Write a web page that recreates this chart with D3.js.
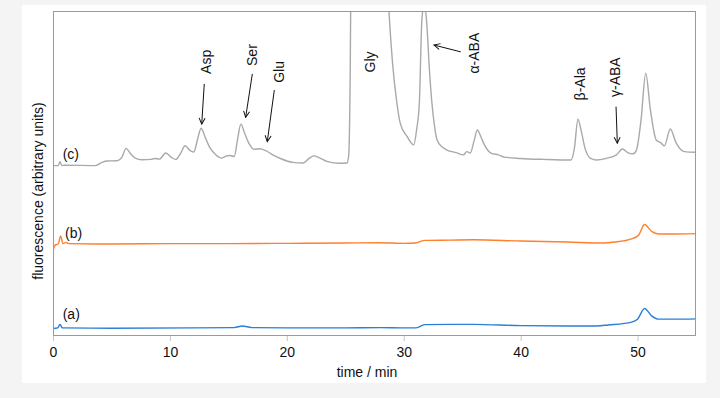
<!DOCTYPE html>
<html>
<head>
<meta charset="utf-8">
<script src="https://cdn.jsdelivr.net/npm/d3@7"></script>
<style>
    body { margin: 0; background: #f4f4f4; }
    svg { display: block; }
    text { font-family: "Liberation Sans", Arial, Helvetica, sans-serif; fill: #111; }
</style>
</head>
<body>
<div id="chart"></div>
<script>
// retention time (min) and signal (arbitrary units)
let trace_a = [
    [0, 2.3], [0.4, 2.5], [0.6, 3.6], [0.8, 2.5], [5, 2.4], [12, 2.5], [15.5, 2.6],
    [16.2, 3.1], [17, 2.6], [20, 2.5], [25, 2.5], [28, 2.6], [30, 2.5], [31, 2.5],
    [31.8, 3.5], [34, 3.6], [36, 3.6], [40, 3.2], [44, 3.1], [46.5, 3.1], [47.5, 3.4],
    [49.5, 4.3], [50, 5.2], [50.6, 8.5], [51.2, 6.2], [51.8, 5.2], [53, 5.2], [55, 5.3]
];

let trace_b = [
    [0, 26.4], [0.2, 28.1], [0.45, 28.4], [0.65, 30.9], [0.85, 28.5], [1.1, 28.9],
    [1.4, 28.5], [5, 28.4], [10, 28.5], [15, 28.5], [20, 28.6], [25, 28.7], [28, 28.8],
    [30, 28.6], [31, 28.7], [31.8, 29.5], [34, 29.6], [36, 29.7], [40, 29.3], [44, 29.0],
    [47, 28.7], [48, 29.0], [49.5, 30.0], [50.1, 31.2], [50.6, 34.4], [51.2, 32.3],
    [51.8, 31.5], [53, 31.5], [55, 31.6]
];

let trace_c = [
    [0, 52.6], [0.45, 52.6], [0.6, 53.8], [0.75, 52.6], [1.0, 52.7], [3.6, 52.6],
    [4.2, 53.6], [4.6, 54.0], [5.5, 54.1], [5.9, 55.2], [6.25, 57.9], [6.6, 56.4],
    [7.0, 55.0], [7.6, 54.4], [8.4, 54.5], [8.7, 54.8], [9.1, 54.6], [9.65, 56.5],
    [10.1, 55.2], [10.5, 54.5], [10.9, 56.3], [11.3, 58.7], [11.7, 57.3], [12.05, 56.8],
    [12.35, 60.5], [12.67, 64.1], [13.0, 61.5], [13.4, 58.2], [13.9, 56.0], [14.4, 54.9],
    [14.8, 55.5], [15.1, 55.7], [15.5, 55.4], [15.8, 61.0], [16.07, 65.4], [16.4, 62.5],
    [16.8, 59.2], [17.2, 57.6], [17.7, 57.8], [18.2, 57.2], [18.8, 55.9], [19.5, 54.7],
    [20.5, 53.6], [21.4, 53.4], [21.9, 54.8], [22.3, 55.6], [22.8, 55.0], [23.5, 53.8],
    [24.5, 53.3], [25.15, 53.4], [25.3, 56], [25.42, 80], [25.55, 140], [26.5, 200],
    [27.8, 200], [28.45, 120], [28.74, 100], [29.05, 84], [29.4, 72.3], [29.7, 65.7],
    [30.3, 61.5], [30.85, 59.0], [31.1, 63.6], [31.34, 72.3], [31.55, 97.5], [31.74, 102.2],
    [31.95, 97.5], [32.2, 82], [32.4, 72.3], [32.6, 65.7], [32.85, 60.5], [33.3, 58.3],
    [33.7, 57.4], [34.5, 56.6], [35.1, 55.9], [35.4, 56.9], [35.7, 56.5], [36.0, 60],
    [36.3, 63.6], [36.6, 61.5], [36.9, 59.0], [37.5, 56.4], [38.1, 55.9], [38.6, 55.2],
    [40, 54.8], [42, 54.5], [44.3, 54.3], [44.6, 58], [44.9, 66.9], [45.2, 63],
    [45.5, 58.0], [46.0, 54.8], [46.5, 54.3], [47.3, 54.8], [48.2, 55.9], [48.7, 57.7],
    [49.2, 56.5], [49.6, 56.2], [49.9, 57.3], [50.3, 66.7], [50.7, 81.1], [51.1, 69.8],
    [51.6, 60.5], [52.0, 59.6], [52.3, 58.7], [52.8, 63.9], [53.3, 59.6], [54.0, 56.9],
    [55, 56.7]
];

let series_names = ['(a)', '(b)', '(c)'];
let series_colors = ['#2a7fd6', '#ff7f2a', '#a9a9a9'];
let series_label_pos = [[0.83, 6.7], [1.03, 31.9], [0.83, 56.2]];

let x_ticks = [0, 10, 20, 30, 40, 50];

// peak labels: name, label centre (t, v), arrow from, arrow to
let peak_names = ['Asp', 'Ser', 'Glu', 'Gly', '\u03b1-ABA', '\u03b2-Ala', '\u03b3-ABA'];
let peak_label_pos = [[13.06, 84.6], [17.0, 86.7], [19.36, 81.5], [27.12, 84.6], [36.01, 87.3], [45.08, 77.8], [48.08, 79.9]];
let peak_arrows = [
    [[12.94, 77.8], [12.72, 65.4]],
    [[17.05, 80.9], [16.48, 67.5]],
    [[18.93, 75.9], [18.33, 60.0]],
    null,
    [[34.88, 87.7], [32.59, 89.8]],
    null,
    [[48.16, 70.8], [48.27, 59.5]]
];

let W = 720, H = 398;
let margin = {top: 12, right: 24, bottom: 62, left: 53};
let width = W - margin.left - margin.right;
let height = H - margin.top - margin.bottom;

let svg = d3.select('#chart').append('svg')
    .attr('width', W)
    .attr('height', H);

// white panel
svg.append('rect')
    .attr('x', 22).attr('y', 5)
    .attr('width', 684).attr('height', 378)
    .attr('fill', '#fff');

let defs = svg.append('defs');
defs.append('clipPath').attr('id', 'plot-clip')
    .append('rect').attr('width', width).attr('height', height);

defs.append('marker')
    .attr('id', 'arrow')
    .attr('viewBox', '-7 -4 8 8')
    .attr('refX', 0).attr('refY', 0)
    .attr('markerWidth', 8).attr('markerHeight', 8)
    .attr('markerUnits', 'userSpaceOnUse')
    .attr('orient', 'auto')
    .append('path')
    .attr('d', 'M-6,-3L0,0L-6,3')
    .attr('fill', 'none')
    .attr('stroke', '#111')
    .attr('stroke-width', 1);

let g = svg.append('g')
    .attr('transform', 'translate(' + margin.left + ',' + margin.top + ')');

let xScale = d3.scaleLinear().domain([0, 55]).range([0, width]);
let yScale = d3.scaleLinear().domain([0, 100]).range([height, 0]);

// x axis
let xAxis = d3.axisBottom(xScale)
    .tickValues(x_ticks)
    .tickSize(5)
    .tickPadding(6)
    .tickFormat(d3.format('d'));

let ax = g.append('g')
    .attr('transform', 'translate(0,' + height + ')')
    .call(xAxis);
ax.select('.domain').remove();
ax.selectAll('line').attr('stroke', '#c4c4c4');
ax.selectAll('text')
    .style('font-size', '14px')
    .attr('fill', '#111');

// traces
let line = d3.line()
    .x(function(d) { return xScale(d[0]); })
    .y(function(d) { return yScale(d[1]); })
    .curve(d3.curveMonotoneX);

let traces = [trace_a, trace_b, trace_c];
g.append('g')
    .attr('clip-path', 'url(#plot-clip)')
    .selectAll('path')
    .data(traces)
    .enter().append('path')
    .attr('d', line)
    .attr('fill', 'none')
    .attr('stroke', function(d, i) { return series_colors[i]; })
    .attr('stroke-width', 1.4)
    .attr('stroke-linejoin', 'round');

// frame
g.append('rect')
    .attr('x', 0.5).attr('y', -0.5)
    .attr('width', width - 1).attr('height', height)
    .attr('fill', 'none')
    .attr('stroke', '#9a9a9a')
    .attr('stroke-width', 1);

// series labels
g.selectAll('.series-label')
    .data(series_names)
    .enter().append('text')
    .attr('class', 'series-label')
    .attr('x', function(d, i) { return xScale(series_label_pos[i][0]); })
    .attr('y', function(d, i) { return yScale(series_label_pos[i][1]); })
    .attr('dy', '0.35em')
    .style('font-size', '14px')
    .text(function(d) { return d; });

// peak labels (rotated)
g.selectAll('.peak-label')
    .data(peak_names)
    .enter().append('text')
    .attr('class', 'peak-label')
    .attr('transform', function(d, i) {
        return 'translate(' + xScale(peak_label_pos[i][0]) + ',' + yScale(peak_label_pos[i][1]) + ') rotate(-90)';
    })
    .attr('text-anchor', 'middle')
    .attr('dy', '0.35em')
    .style('font-size', '14px')
    .text(function(d) { return d; });

// arrows
g.selectAll('.peak-arrow')
    .data(peak_arrows.filter(function(d) { return d; }))
    .enter().append('line')
    .attr('class', 'peak-arrow')
    .attr('x1', function(d) { return xScale(d[0][0]); })
    .attr('y1', function(d) { return yScale(d[0][1]); })
    .attr('x2', function(d) { return xScale(d[1][0]); })
    .attr('y2', function(d) { return yScale(d[1][1]); })
    .attr('stroke', '#111')
    .attr('stroke-width', 1)
    .attr('marker-end', 'url(#arrow)');

// axis titles
svg.append('text')
    .attr('x', 367).attr('y', 377)
    .attr('text-anchor', 'middle')
    .style('font-size', '14px')
    .text('time / min');

svg.append('text')
    .attr('transform', 'translate(43,191) rotate(-90)')
    .attr('text-anchor', 'middle')
    .style('font-size', '14px')
    .text('fluorescence (arbitrary units)');
</script>
</body>
</html>
